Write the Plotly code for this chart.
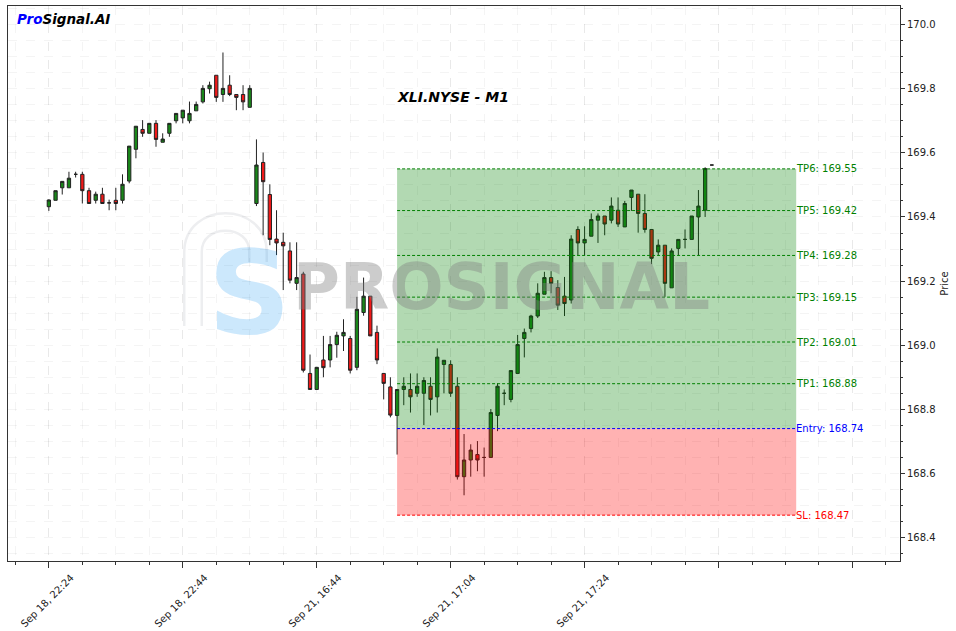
import plotly.graph_objects as go

# ---------------- data ----------------
opens = [169.432, 169.452, 169.491, 169.491, 169.533, 169.533, 169.482, 169.452, 169.471, 169.444,
         169.452, 169.452, 169.512, 169.611, 169.673, 169.661, 169.692, 169.633, 169.661, 169.700,
         169.709, 169.700, 169.731, 169.759, 169.800, 169.842, 169.782, 169.811, 169.782, 169.782,
         169.742, 169.442, 169.570, 169.470, 169.331, 169.321, 169.294, 169.193, 169.222, 168.912,
         168.862, 168.954, 168.954, 169.002, 169.029, 169.021, 168.931, 169.102, 169.153, 169.040,
         168.912, 168.870, 168.781, 168.862, 168.862, 168.850, 168.850, 168.872, 168.839, 168.940,
         168.940, 168.872, 168.590, 168.642, 168.659, 168.650, 168.650, 168.781, 168.850, 168.831,
         168.912, 169.021, 169.052, 169.091, 169.159, 169.211, 169.180, 169.153, 169.141, 169.361,
         169.319, 169.340, 169.390, 169.403, 169.390, 169.421, 169.369, 169.461, 169.471, 169.411,
         169.361, 169.291, 169.312, 169.179, 169.302, 169.330, 169.330, 169.400, 169.421, 169.562]
highs = [169.455, 169.482, 169.511, 169.541, 169.541, 169.541, 169.491, 169.479, 169.491, 169.454,
         169.491, 169.533, 169.621, 169.683, 169.702, 169.692, 169.702, 169.661, 169.692, 169.723,
         169.733, 169.760, 169.760, 169.811, 169.822, 169.842, 169.913, 169.842, 169.782, 169.811,
         169.811, 169.642, 169.601, 169.502, 169.421, 169.351, 169.321, 169.321, 169.229, 168.971,
         168.931, 169.029, 169.029, 169.042, 169.081, 169.029, 169.151, 169.211, 169.153, 169.061,
         168.912, 168.900, 168.862, 168.900, 168.912, 168.912, 168.900, 168.900, 168.990, 168.953,
         168.953, 168.900, 168.723, 168.691, 168.701, 168.681, 168.801, 168.881, 168.862, 168.921,
         169.032, 169.052, 169.095, 169.193, 169.229, 169.231, 169.203, 169.213, 169.343, 169.371,
         169.371, 169.411, 169.411, 169.403, 169.461, 169.461, 169.450, 169.484, 169.471, 169.471,
         169.361, 169.330, 169.312, 169.302, 169.330, 169.361, 169.403, 169.484, 169.555, 169.562]
lows = [169.419, 169.452, 169.470, 169.491, 169.523, 169.442, 169.442, 169.442, 169.442, 169.421,
        169.421, 169.442, 169.505, 169.583, 169.650, 169.661, 169.619, 169.633, 169.650, 169.692,
        169.692, 169.692, 169.731, 169.754, 169.785, 169.759, 169.759, 169.777, 169.733, 169.733,
        169.742, 169.434, 169.343, 169.312, 169.281, 169.172, 169.193, 169.172, 168.915, 168.862,
        168.862, 168.900, 168.931, 168.961, 168.982, 168.912, 168.922, 169.092, 169.029, 168.941,
        168.831, 168.775, 168.659, 168.813, 168.790, 168.839, 168.751, 168.781, 168.790, 168.850,
        168.839, 168.581, 168.532, 168.590, 168.607, 168.590, 168.650, 168.732, 168.813, 168.822,
        168.912, 168.962, 169.040, 169.085, 169.159, 169.162, 169.110, 169.091, 169.130, 169.281,
        169.281, 169.340, 169.319, 169.343, 169.380, 169.369, 169.369, 169.419, 169.351, 169.351,
        169.253, 169.281, 169.151, 169.179, 169.281, 169.302, 169.330, 169.281, 169.400, 169.562]
closes = [169.453, 169.482, 169.511, 169.521, 169.533, 169.482, 169.442, 169.471, 169.442, 169.444,
          169.442, 169.502, 169.621, 169.683, 169.661, 169.692, 169.642, 169.643, 169.692, 169.723,
          169.733, 169.723, 169.751, 169.801, 169.811, 169.773, 169.801, 169.782, 169.773, 169.759,
          169.801, 169.562, 169.510, 169.330, 169.319, 169.310, 169.203, 169.211, 168.922, 168.862,
          168.931, 168.930, 169.002, 169.031, 169.040, 168.922, 169.112, 169.153, 169.029, 168.954,
          168.881, 168.782, 168.862, 168.872, 168.839, 168.872, 168.890, 168.831, 168.963, 168.953,
          168.850, 168.590, 168.642, 168.673, 168.642, 168.650, 168.790, 168.872, 168.850, 168.921,
          169.002, 169.040, 169.091, 169.162, 169.211, 169.193, 169.125, 169.130, 169.331, 169.319,
          169.330, 169.392, 169.403, 169.378, 169.434, 169.378, 169.442, 169.484, 169.411, 169.361,
          169.271, 169.312, 169.193, 169.294, 169.330, 169.330, 169.403, 169.434, 169.551, 169.562]

tick_positions = [0, 20, 40, 60, 80, 100, 120]
tick_labels = ["Sep 18, 22:24", "Sep 18, 22:44", "Sep 21, 16:44", "Sep 21, 17:04", "Sep 21, 17:24", "", ""]

tp_names = ["TP1", "TP2", "TP3", "TP4", "TP5", "TP6"]
tp_values = [168.88, 169.01, 169.15, 169.28, 169.42, 169.55]
entry_price = 168.74
sl_price = 168.47
zone_start = 52
zone_end = 111.6

symbol_title = "XLI.NYSE - M1"

# ---------------- figure ----------------
FONT = "DejaVu Sans"
x_idx = list(range(len(opens)))

fig = go.Figure()
fig.add_trace(go.Candlestick(
    x=x_idx, open=opens, high=highs, low=lows, close=closes,
    increasing=dict(line=dict(color="#222222", width=1), fillcolor="rgb(25,135,25)"),
    decreasing=dict(line=dict(color="#222222", width=1), fillcolor="rgb(240,25,25)"),
    whiskerwidth=0, showlegend=False, hoverinfo="skip",
))

def px_x(px):
    return (px - 8) / 892.0

def px_y(py):
    return (561 - py) / 555.0

shapes = []
# faint "P" logo outline (drawn under the data)
p_path = (f"M {px_x(193)},{px_y(326)} L {px_x(193)},{px_y(252)} "
          f"C {px_x(193)},{px_y(212)} {px_x(258)},{px_y(212)} {px_x(258)},{px_y(252)} "
          f"L {px_x(258)},{px_y(262)}")
shapes.append(dict(type="path", xref="paper", yref="paper", path=p_path,
                   line=dict(color="rgba(0,20,40,0.07)", width=20), layer="below"))
shapes.append(dict(type="path", xref="paper", yref="paper", path=p_path,
                   line=dict(color="white", width=15), layer="below"))

shapes.append(dict(type="rect", xref="x", yref="y", x0=zone_start, x1=zone_end,
                   y0=entry_price, y1=max(tp_values), fillcolor="rgba(0,128,0,0.3)",
                   line=dict(width=0), layer="above"))
shapes.append(dict(type="rect", xref="x", yref="y", x0=zone_start, x1=zone_end,
                   y0=sl_price, y1=entry_price, fillcolor="rgba(255,0,0,0.3)",
                   line=dict(width=0), layer="above"))

annotations = []
levels = [(f"{n}: {v:.2f}", v, "green") for n, v in zip(tp_names, tp_values)]
levels.append((f"Entry: {entry_price:.2f}", entry_price, "blue"))
levels.append((f"SL: {sl_price:.2f}", sl_price, "red"))
for text, val, col in levels:
    shapes.append(dict(type="line", xref="x", yref="y", x0=zone_start, x1=zone_end,
                       y0=val, y1=val, line=dict(color=col, width=1, dash="3px,2px"),
                       layer="above"))
    annotations.append(dict(x=zone_end, y=val, xref="x", yref="y", text=text,
                            showarrow=False, xanchor="left", yanchor="middle",
                            font=dict(family=FONT, size=10, color=col), borderpad=0, xshift=-1))

# watermark
annotations.append(dict(x=px_x(249), y=px_y(293), xref="paper", yref="paper", text="<b>S</b>",
                        xanchor="center", yanchor="middle", showarrow=False,
                        font=dict(family=FONT, size=115, color="rgba(0,140,240,0.2)")))
annotations.append(dict(x=px_x(501), y=px_y(287), xref="paper", yref="paper", text="<b>PROSIGNAL</b>",
                        xanchor="center", yanchor="middle", showarrow=False,
                        font=dict(family=FONT, size=64, color="rgba(128,128,128,0.4)")))

annotations.append(dict(x=px_x(453), y=px_y(97), xref="paper", yref="paper",
                        xanchor="center", yanchor="middle",
                        text=f"<b><i>{symbol_title}</i></b>", showarrow=False,
                        font=dict(family=FONT, size=14, color="black")))
annotations.append(dict(x=px_x(15), y=px_y(19), xref="paper", yref="paper",
                        xanchor="left", yanchor="middle",
                        text="<b><i><span style='color:blue'>Pro</span>Signal.AI</i></b>",
                        showarrow=False, font=dict(family=FONT, size=13.5, color="black")))

grid_col = "rgba(0,0,0,0.045)"
fig.update_layout(
    width=956, height=631,
    margin=dict(l=8, r=56, t=6, b=70),
    paper_bgcolor="white", plot_bgcolor="white",
    font=dict(family=FONT, size=10, color="#222"),
    shapes=shapes, annotations=annotations,
    xaxis=dict(
        range=[-6.1, 127.1], rangeslider=dict(visible=False), automargin=False,
        tickmode="array", tickvals=tick_positions, ticktext=tick_labels,
        tickangle=-45, ticks="outside", ticklen=6, tickcolor="#333",
        ticklabelshift=22,
        showline=True, mirror=True, linecolor="#333", linewidth=1,
        showgrid=True, gridcolor=grid_col, griddash="dash", zeroline=False,
        tickfont=dict(size=10, color="#222"),
        minor=dict(tick0=0, dtick=5, ticks="outside", ticklen=3, tickcolor="#333",
                   showgrid=True, gridcolor=grid_col, griddash="dash"),
    ),
    yaxis=dict(
        side="right", range=[168.327, 170.058], tick0=168.4, dtick=0.2, tickformat=".1f",
        automargin=False,
        ticks="outside", ticklen=4, tickcolor="#333",
        showline=True, mirror=True, linecolor="#333", linewidth=1,
        showgrid=True, gridcolor=grid_col, griddash="dash", zeroline=False,
        tickfont=dict(size=10, color="#222"),
        title=dict(text="Price", font=dict(size=10, color="#222"), standoff=6),
        minor=dict(dtick=0.05, ticks="outside", ticklen=2, tickcolor="#333",
                   showgrid=True, gridcolor=grid_col, griddash="dash"),
    ),
)

fig.write_html("out.html", config={"displayModeBar": False},
               post_script="document.body.style.margin='0';")
